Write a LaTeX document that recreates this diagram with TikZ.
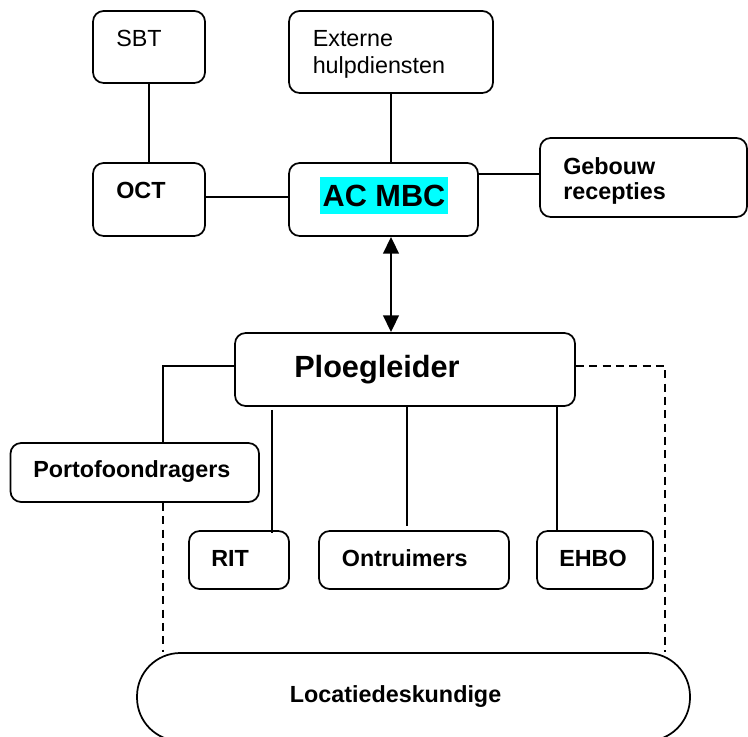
\documentclass[tikz,border=0pt]{standalone}
\usepackage{fontspec}
\setmainfont{Liberation Sans}
\usetikzlibrary{calc,arrows.meta}
\definecolor{hl}{RGB}{0,255,255}
\begin{document}
\begin{tikzpicture}[x=0.75pt,y=-0.75pt,
  box/.style={draw, line width=1.3pt, rounded corners=8pt, inner sep=0pt},
  lbl/.style={anchor=base west, inner sep=0pt, font=\fontsize{17.5}{20}\selectfont},
  blbl/.style={anchor=base west, inner sep=0pt, font=\fontsize{17.5}{20}\selectfont\bfseries},
  big/.style={font=\fontsize{23}{26}\selectfont\bfseries},
  conn/.style={line width=1.2pt},
  dconn/.style={line width=1.2pt, dash pattern=on 6pt off 4pt}]
\useasboundingbox (0,0) rectangle (748,737);
% boxes
\node[box, minimum width=84pt, minimum height=54pt] (sbt) at (149,47) {};
\node[box, minimum width=153pt, minimum height=61.5pt] (ext) at (391,52) {};
\node[box, minimum width=84pt, minimum height=54.75pt] (oct) at (149,199.5) {};
\node[box, minimum width=141.75pt, minimum height=54.75pt] (ac) at (383.5,199.5) {};
\node[box, minimum width=155.25pt, minimum height=59.25pt] (geb) at (643.5,177.5) {};
\node[box, minimum width=255pt, minimum height=54.75pt] (ploeg) at (405,369.5) {};
\node[box, minimum width=186.4pt, minimum height=44.25pt] (porto) at (134.75,472.5) {};
\node[box, minimum width=75pt, minimum height=43.5pt] (rit) at (239,560) {};
\node[box, minimum width=142.5pt, minimum height=43.5pt] (ontr) at (414,560) {};
\node[box, minimum width=87pt, minimum height=43.5pt] (ehbo) at (595,560) {};
\node[box, rounded corners=32.5pt, minimum width=414.75pt, minimum height=66pt] (loc) at (413.5,697) {};
% labels
\node[lbl] (tsbt) at (116,47) {SBT};
\node[lbl] (text1) at (312.5,47) {Externe};
\node[lbl] (text2) at (312.5,74) {hulpdiensten};
\node[blbl] (toct) at (116,199) {OCT};
\node[big, fill=hl, inner sep=0pt, minimum width=96pt, minimum height=27.75pt] (tac) at (384,195.5) {AC MBC};
\node[blbl] (tgeb1) at (563,175) {Gebouw};
\node[blbl] (tgeb2) at (563,200) {recepties};
\node[big, anchor=base west, inner sep=0pt] (tploeg) at (294,377) {Ploegleider};
\node[blbl] (tporto) at (33,477) {Portofoondragers};
\node[blbl] (trit) at (211,566) {RIT};
\node[blbl] (tontr) at (341.6,566) {Ontruimers};
\node[blbl] (tehbo) at (559,566) {EHBO};
\node[blbl] (tloc) at (289.6,702) {Locatiedeskundige};
% helper coordinates
\coordinate (pl) at (163,366);
\coordinate (pr) at (665,366);
\coordinate (ritx) at (272,0);
\coordinate (ontx) at (407,0);
\coordinate (ehx) at (557,0);
\coordinate (gy) at (0,174);
% connectors
\draw[conn] (sbt.south) -- (oct.north);
\draw[conn] (oct.east |- 0,197) -- (ac.west |- 0,197);
\draw[conn] (ext.south) -- (ext.south |- ac.north);
\draw[conn] (ac.east |- gy) -- (geb.west |- gy);
\draw[line width=2pt, {Triangle[length=12.5pt,width=11.5pt]}-{Triangle[length=12.5pt,width=11.5pt]}] (ext.south |- ac.south) -- (ext.south |- ploeg.north);
\draw[conn] (ploeg.west |- pl) -| (porto.north -| pl);
\draw[dconn] (porto.south -| pl) -- (loc.north -| pl);
\draw[dconn] (ploeg.east |- pr) -| (loc.north -| pr);
\draw[conn] ($(ploeg.south -| ritx)+(0,3)$) -- ($(rit.north -| ritx)+(0,3)$);
\draw[conn] (ploeg.south -| ontx) -- ($(ontr.north -| ontx)+(0,-4)$);
\draw[conn] (ploeg.south -| ehx) -- ($(ehbo.north -| ehx)+(0,2)$);
\end{tikzpicture}
\end{document}
